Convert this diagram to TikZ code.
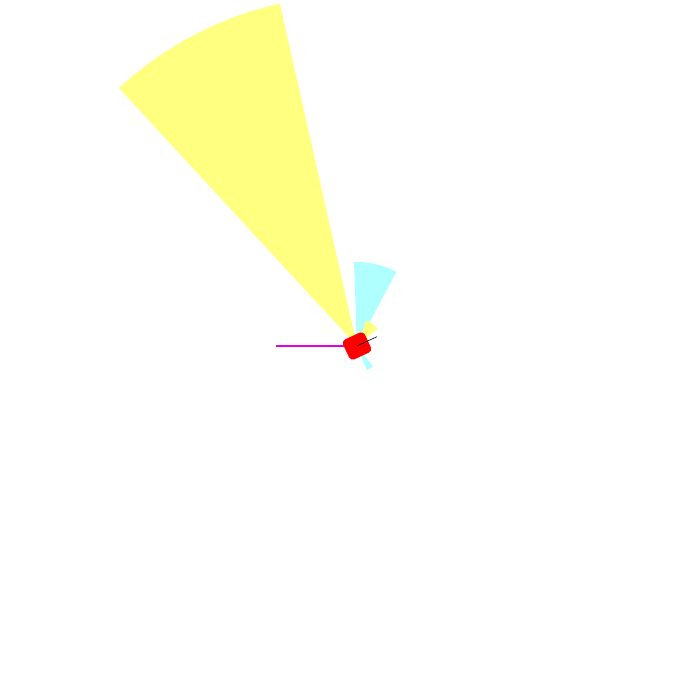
\documentclass[tikz,border=0pt]{standalone}
\usepackage{tikz}
\usetikzlibrary{calc}
\definecolor{fovYellow}{HTML}{FFFF80}
\definecolor{fovCyan}{HTML}{AFFFFF}
\definecolor{pathMagenta}{HTML}{E000E0}

\begin{document}
\begin{tikzpicture}[x=1pt,y=1pt,
    sector/.style={draw=none},
    robotbody/.style={fill=red,draw=none,rounded corners=4pt},
    heading/.style={black,line width=0.6pt},
    trail/.style={pathMagenta,line width=2pt}]
  \useasboundingbox (0,0) rectangle (700,700);
  \coordinate (robot) at (357,354);
  % sensor cones
  \fill[sector,fovYellow] (robot) -- ++(102.7:351) arc[start angle=102.7,end angle=132.7,radius=351] -- cycle;
  \fill[sector,fovCyan] (robot) -- ++(62:84) arc[start angle=62,end angle=92,radius=84] -- cycle;
  \fill[sector,fovCyan] (robot) -- ++(292:26) arc[start angle=292,end angle=308,radius=26] -- cycle;
  \fill[sector,fovYellow] (robot) -- ++(40:27) arc[start angle=40,end angle=70,radius=27] -- cycle;
  % path and robot
  \coordinate (trailstart) at (276,354);
  \draw[trail] (trailstart) -- (robot);
  \fill[robotbody,rotate around={25:(robot)}] ($(robot)+(-12,-11)$) rectangle ($(robot)+(12,11)$);
  \coordinate (nose) at ($(robot)+(25:22)$);
  \draw[heading] (robot) -- (nose);
\end{tikzpicture}
\end{document}
